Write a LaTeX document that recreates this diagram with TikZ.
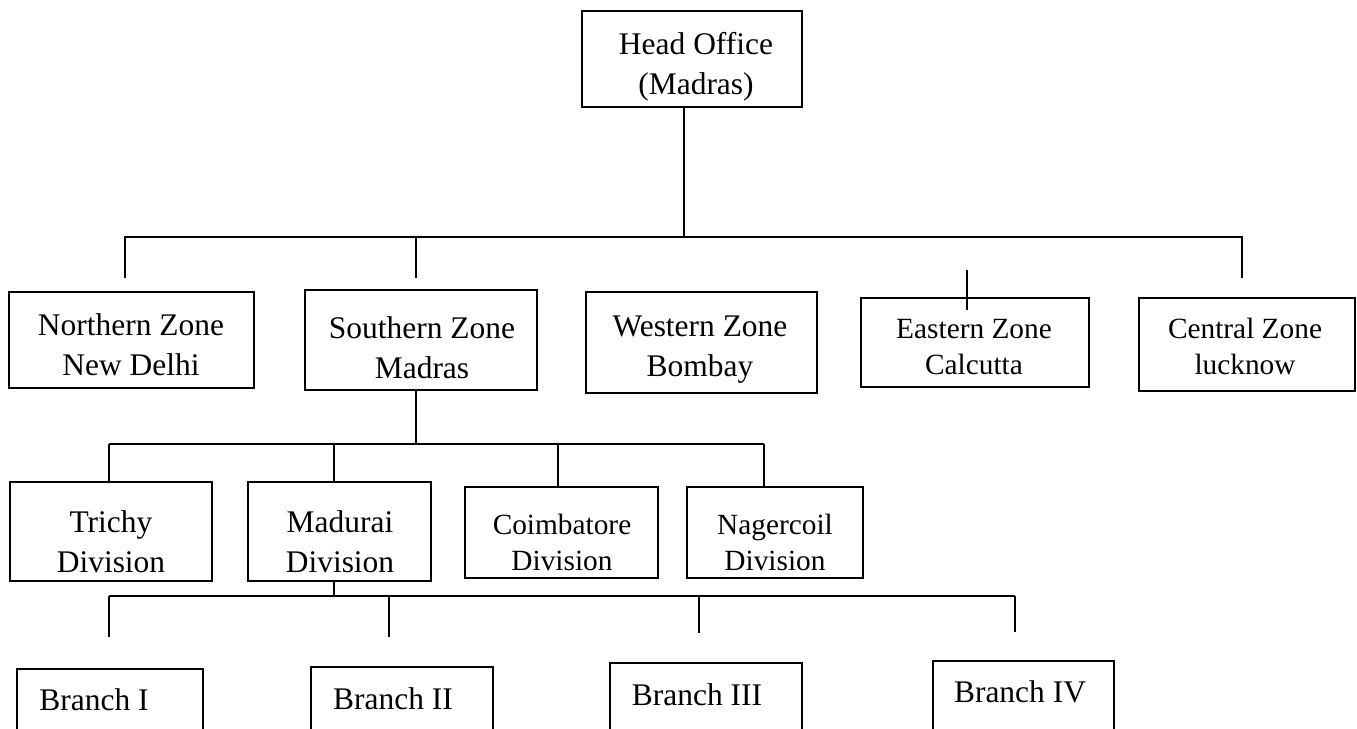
\documentclass[tikz,border=0pt]{standalone}
\usepackage{fontspec}
\setmainfont{Liberation Serif}
\usetikzlibrary{fit}

\tikzset{
  box/.style={draw, line width=0.75pt, inner sep=0pt},
  bigtext/.style={align=center, inner sep=0pt, font=\fontsize{11.8}{15}\selectfont},
  smalltext/.style={align=center, inner sep=0pt, font=\fontsize{11}{13.5}\selectfont},
}

\begin{document}
\begin{tikzpicture}[x=0.375pt,y=0.375pt,yscale=-1,xscale=1,line width=0.75pt]
\useasboundingbox (0,0) rectangle (1357,728);

%Shape: Rectangle [head office]
\node [box, fit={(582,11) (802,107)}] (head) {};
%Shape: Rectangle [zones]
\node [box, fit={(9,292) (254,388)}] (north) {};
\node [box, fit={(305,290) (537,390)}] (south) {};
\node [box, fit={(586,292) (817,393)}] (west) {};
\node [box, fit={(861,298) (1089,387)}] (east) {};
\node [box, fit={(1139,298) (1355,391)}] (central) {};
%Shape: Rectangle [divisions]
\node [box, fit={(10,482) (212,581)}] (trichy) {};
\node [box, fit={(248,482) (431,581)}] (madurai) {};
\node [box, fit={(465,487) (658,578)}] (coimb) {};
\node [box, fit={(687,487) (863,578)}] (nager) {};
%Shape: Rectangle [branches, cut at the page edge]
\node [box, fit={(17,669) (203,760)}] (br1) {};
\node [box, fit={(311,667) (493,760)}] (br2) {};
\node [box, fit={(610,663) (802,760)}] (br3) {};
\node [box, fit={(933,661) (1114,760)}] (br4) {};

%Straight Lines [head office to zones]
\coordinate (hub1) at (684,237);
\coordinate (zn) at (125,278);
\coordinate (zs) at (416,278);
\coordinate (zc) at (1242,278);
\coordinate (ze) at (967,270);
\draw (head.south -| hub1) -- (hub1);
\draw (zn) |- (hub1) -| (zc);
\draw (zs) -- (zs |- hub1);
\draw [line width=0.5pt] (ze) -- (ze |- east.north) -- ++(0,13);

%Straight Lines [southern zone to divisions]
\coordinate (hub2) at (416,444);
\coordinate (dt) at (109,444);
\coordinate (dm) at (334,444);
\coordinate (dc) at (558,444);
\coordinate (dn) at (764,444);
\draw (south.south -| hub2) -- (hub2);
\draw (dt) -- (dn);
\draw (dt) -- (dt |- trichy.north);
\draw (dm) -- (dm |- madurai.north);
\draw (dc) -- (dc |- coimb.north);
\draw (dn) -- (dn |- nager.north);

%Straight Lines [madurai division to branches]
\coordinate (hub3) at (334,596);
\coordinate (b1) at (109,596);
\coordinate (b2) at (389,596);
\coordinate (b3) at (699,596);
\coordinate (b4) at (1015,596);
\coordinate (b1e) at (109,637);
\coordinate (b2e) at (389,637);
\coordinate (b3e) at (699,633);
\coordinate (b4e) at (1015,632);
\draw (madurai.south -| hub3) -- (hub3);
\draw (b1) -- (b4);
\draw [line width=0.5pt] (b1) -- (b1e);
\draw [line width=0.5pt] (b2) -- (b2e);
\draw [line width=0.5pt] (b3) -- (b3e);
\draw [line width=0.5pt] (b4) -- (b4e);

% Text Node
\draw (696,67) node [bigtext] (headtxt) {Head Office\\(Madras)};
% Text Node
\draw (131,345) node [bigtext] (northtxt) {Northern Zone\\New Delhi};
% Text Node
\draw (422,348) node [bigtext] (southtxt) {Southern Zone\\Madras};
% Text Node
\draw (700,350) node [bigtext] (westtxt) {Western Zone\\Bombay};
% Text Node
\draw (974,347) node [smalltext] (easttxt) {Eastern Zone\\Calcutta};
% Text Node
\draw (1245,346) node [smalltext] (centraltxt) {Central Zone\\lucknow};
% Text Node
\draw (111,542) node [bigtext] (trichytxt) {Trichy\\Division};
% Text Node
\draw (340,542) node [bigtext] (maduraitxt) {Madurai\\Division};
% Text Node
\draw (562,542) node [smalltext] (coimbtxt) {Coimbatore\\Division};
% Text Node
\draw (775,542) node [smalltext] (nagertxt) {Nagercoil\\Division};
% Text Node
\draw (94,700) node [bigtext] (br1txt) {Branch I};
% Text Node
\draw (393,699) node [bigtext] (br2txt) {Branch II};
% Text Node
\draw (697,695) node [bigtext] (br3txt) {Branch III};
% Text Node
\draw (1020,692) node [bigtext] (br4txt) {Branch IV};

\end{tikzpicture}
\end{document}
